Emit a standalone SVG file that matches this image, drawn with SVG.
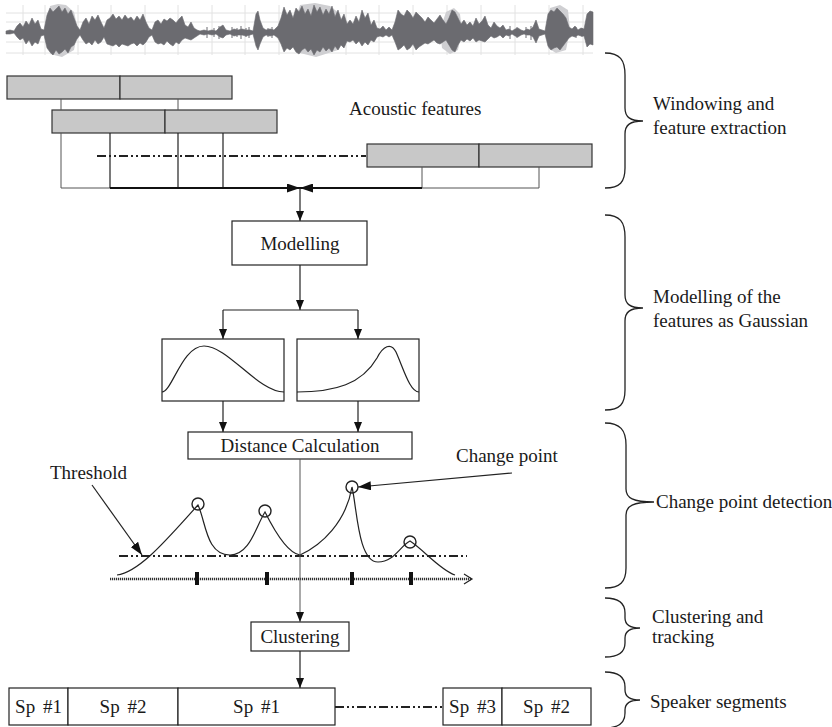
<svg xmlns="http://www.w3.org/2000/svg" width="832" height="727" viewBox="0 0 832 727">
  <style>
    .lbl { font-family: "Liberation Serif", "Times New Roman", serif; font-size: 19px; fill: #1a1a1a; }
    .mid { text-anchor: middle; }
    .sp { word-spacing: 3px; }
    .box { fill: #ffffff; stroke: #222; stroke-width: 1.2; }
    .feat { fill: #c8c8c8; stroke: #333; stroke-width: 1.2; }
    .ln { fill: none; stroke: #222; stroke-width: 1.2; }
    .thin { fill: none; stroke: #555; stroke-width: 1; }
    .thick { fill: none; stroke: #111; stroke-width: 2.2; }
    .dashdot { fill: none; stroke: #222; stroke-width: 2; stroke-dasharray: 9 3 2 3 2 3; }
    .brace { fill: none; stroke: #222; stroke-width: 1.3; }
    .grid { stroke: #e2e2e2; stroke-width: 1; }
  </style>
  <defs>
    <marker id="ah" viewBox="0 0 10 8" refX="10" refY="4" markerWidth="10" markerHeight="8" markerUnits="userSpaceOnUse" orient="auto">
      <path d="M0 0 L10 4 L0 8 Z" fill="#111"/>
    </marker>
    <marker id="ahBig" viewBox="0 0 13 9" refX="13" refY="4.5" markerWidth="13" markerHeight="9" markerUnits="userSpaceOnUse" orient="auto">
      <path d="M0 0 L13 4.5 L0 9 Z" fill="#111"/>
    </marker>
  </defs>

  <!-- speech waveform -->
  <g id="waveform">
    <g class="grid">
      <line x1="6" y1="13" x2="593" y2="13"/>
      <line x1="6" y1="22" x2="593" y2="22"/>
      <line x1="6" y1="42" x2="593" y2="42"/>
      <line x1="6" y1="53" x2="593" y2="53"/>
      <line x1="23" y1="5" x2="23" y2="55"/>
      <line x1="45" y1="5" x2="45" y2="55"/>
      <line x1="78" y1="5" x2="78" y2="55"/>
      <line x1="111" y1="5" x2="111" y2="55"/>
      <line x1="145" y1="5" x2="145" y2="55"/>
      <line x1="178" y1="5" x2="178" y2="55"/>
      <line x1="212" y1="5" x2="212" y2="55"/>
      <line x1="245" y1="5" x2="245" y2="55"/>
      <line x1="279" y1="5" x2="279" y2="55"/>
      <line x1="312" y1="5" x2="312" y2="55"/>
      <line x1="346" y1="5" x2="346" y2="55"/>
      <line x1="379" y1="5" x2="379" y2="55"/>
      <line x1="413" y1="5" x2="413" y2="55"/>
      <line x1="447" y1="5" x2="447" y2="55"/>
      <line x1="481" y1="5" x2="481" y2="55"/>
      <line x1="515" y1="5" x2="515" y2="55"/>
      <line x1="549" y1="5" x2="549" y2="55"/>
      <line x1="583" y1="5" x2="583" y2="55"/>
    </g>
    <!-- lighter halo around the loud bursts -->
    <g fill="#cfcfd2">
      <polygon points="46,30 50,6 58,4 66,5 74,12 78,30 74,50 62,57 50,54"/>
      <polygon points="292,30 300,5 315,3 330,6 340,14 344,30 338,50 316,57 296,52"/>
      <polygon points="440,30 446,12 454,8 460,14 462,30 458,50 450,54 442,48"/>
      <polygon points="546,30 550,8 560,5 568,10 570,30 566,50 556,53 548,48"/>
    </g>
    <polygon fill="#6b6b70" stroke="#6b6b70" stroke-width="0.6" points="6,31 10,30 14,31 17,26 20,23 23,27 26,21 29,25 32,18 35,24 38,20 41,29 44,30 47,15 50,8 53,12 56,9 59,6 62,12 65,8 68,14 71,10 74,18 77,26 80,30 83,22 86,18 89,24 92,16 95,20 98,15 101,22 104,28 107,20 110,18 113,14 116,19 119,16 122,20 125,15 128,19 131,17 134,21 137,16 140,20 143,14 146,22 149,28 152,30 155,22 158,20 161,24 164,19 167,21 170,18 173,20 176,23 179,19 182,16 185,25 188,27 191,22 194,28 197,30 200,31 204,30 208,31 212,30 216,31 220,27 223,25 226,30 230,31 234,29 238,30 242,29 246,30 250,30 253,31 256,14 258,11 260,20 263,28 266,30 270,29 274,30 278,26 281,18 284,7 287,15 290,10 293,18 296,8 299,12 302,6 305,14 308,9 311,16 314,5 317,12 320,7 323,15 326,9 329,14 332,6 335,17 338,10 341,20 344,14 347,24 350,20 353,24 356,16 359,22 362,10 365,18 368,13 371,25 374,20 377,28 380,29 383,26 386,30 389,27 392,30 395,22 398,10 401,14 404,16 407,10 410,13 413,18 416,12 419,15 422,18 425,22 428,17 431,20 434,23 437,19 440,15 443,20 446,24 449,18 452,10 455,12 458,18 461,24 464,20 467,25 470,22 473,26 476,18 479,24 482,21 485,16 488,25 491,28 494,22 497,26 500,28 503,25 506,30 509,29 512,31 515,29 518,28 521,30 524,31 527,29 530,30 533,27 536,20 539,29 542,30 545,31 548,14 551,10 554,12 557,8 560,11 563,14 566,18 569,27 572,29 575,26 578,30 581,28 584,29 587,14 590,11 593,12 593,45 590,44 587,47 584,36 581,36 578,35 575,37 572,36 569,38 566,42 563,46 560,50 557,47 554,48 551,50 548,46 545,34 542,35 539,36 536,43 533,37 530,35 527,35 524,34 521,35 518,37 515,36 512,34 509,36 506,35 503,38 500,35 497,37 494,38 491,36 488,39 485,42 482,41 479,40 476,42 473,38 470,41 467,39 464,42 461,40 458,45 455,52 452,50 449,45 446,40 443,42 440,44 437,43 434,40 431,42 428,44 425,43 422,45 419,47 416,50 413,44 410,48 407,50 404,45 401,48 398,50 395,42 392,35 389,37 386,35 383,37 380,36 377,37 374,42 371,40 368,45 365,42 362,46 359,41 356,44 353,40 350,42 347,41 344,48 341,45 338,50 335,46 332,52 329,48 326,51 323,47 320,52 317,50 314,55 311,49 308,52 305,48 302,50 299,54 296,52 293,47 290,50 287,48 284,52 281,44 278,38 274,35 270,36 266,35 263,37 260,44 258,50 256,46 253,34 250,35 246,36 242,35 238,35 234,36 230,34 226,35 223,38 220,37 216,34 212,35 208,34 204,35 200,34 197,36 194,38 191,40 188,39 185,38 182,40 179,44 176,42 173,46 170,44 167,41 164,45 161,43 158,44 155,42 152,35 149,37 146,42 143,45 140,43 137,46 134,43 131,44 128,46 125,45 122,44 119,47 116,44 113,46 110,45 107,44 104,37 101,42 98,44 95,40 92,45 89,42 86,44 83,40 80,35 77,39 74,45 71,47 68,53 65,49 62,52 59,54 56,50 53,55 50,52 47,48 44,35 41,36 38,44 35,42 32,46 29,40 26,44 23,38 20,40 17,37 14,33 10,34 6,34"/>
    <!-- fine spikes in the quieter stretches -->
    <path fill="none" stroke="#6b6b70" stroke-width="1" d="M207 27V38 M214 28V37 M219 26V39 M232 27V38 M237 28V37 M241 26V39 M246 28V37 M249 27V38 M268 28V37 M272 27V38 M510 26V39 M517 27V38 M526 27V38 M531 26V40 M576 27V38 M582 28V37"/>
  </g>

  <!-- windowed frames -->
  <g id="frames-row1">
    <rect class="feat" x="7" y="76" width="113" height="23"/>
    <rect class="feat" x="120" y="76" width="112" height="23"/>
  </g>
  <g id="frames-row2">
    <rect class="feat" x="52" y="110" width="113" height="23"/>
    <rect class="feat" x="165" y="110" width="112" height="23"/>
  </g>
  <g id="frames-last">
    <rect class="feat" x="367" y="144" width="112" height="23"/>
    <rect class="feat" x="479" y="144" width="113" height="23"/>
  </g>
  <g id="acoustic-label">
    <text class="lbl" x="349" y="115">Acoustic features</text>
  </g>

  <g id="modelling">
    <rect class="box" x="232" y="221" width="135" height="44"/>
    <text class="lbl mid" x="300" y="250">Modelling</text>
  </g>

  <g id="gauss-left">
    <rect class="box" x="162" y="339" width="122" height="62"/>
    <path class="ln" stroke-width="1.8" d="M162 392 C172 392 182 346 204 346 C228 346 258 392 284 392"/>
  </g>
  <g id="gauss-right">
    <rect class="box" x="297" y="339" width="122" height="62"/>
    <path class="ln" stroke-width="1.8" d="M297 392 C335 392 362 384 377 358 C383 346 391 342 396 352 C404 370 410 392 419 392"/>
  </g>

  <g id="distance">
    <rect class="box" x="188" y="432" width="224" height="27"/>
    <text class="lbl mid" x="300" y="452">Distance Calculation</text>
  </g>

  <g id="clustering">
    <rect class="box" x="251" y="622" width="98" height="29"/>
    <text class="lbl mid" x="300" y="643">Clustering</text>
  </g>

  <g id="segments">
    <rect class="box" x="9" y="688" width="59" height="37"/>
    <text class="lbl mid sp" x="38.5" y="713">Sp #1</text>
    <rect class="box" x="68" y="688" width="110" height="37"/>
    <text class="lbl mid sp" x="123" y="713">Sp #2</text>
    <rect class="box" x="178" y="688" width="157" height="37"/>
    <text class="lbl mid sp" x="256.5" y="713">Sp #1</text>
    <rect class="box" x="443" y="688" width="59" height="37"/>
    <text class="lbl mid sp" x="472.5" y="713">Sp #3</text>
    <rect class="box" x="502" y="688" width="89" height="37"/>
    <text class="lbl mid sp" x="546.5" y="713">Sp #2</text>
  </g>

  <!-- distance curve with change points -->
  <g id="change-curve">
    <path class="dashdot" d="M119 556 H467"/>
    <path fill="none" stroke="#333" stroke-width="2.6" stroke-dasharray="1.2 0.8" d="M110 579 H471"/>
    <path class="ln" d="M464 574 L472 579 L464 584"/>
    <g fill="#111">
      <rect x="195" y="572" width="4" height="13"/>
      <rect x="265" y="572" width="4" height="13"/>
      <rect x="350" y="572" width="4" height="13"/>
      <rect x="409" y="572" width="4" height="13"/>
    </g>
    <path class="ln" stroke-width="1.8" d="M117 575 C140 572 168 538 198 505 C206 522 206 555 230 555 C250 555 256 526 265 512 C272 526 286 553 300 555 C322 545 346 522 352 487 C357 508 358 562 378 562 C394 562 400 546 410 541 C424 550 440 570 455 575"/>
    <g fill="none" stroke="#222" stroke-width="1.4">
      <circle cx="198" cy="504" r="6"/>
      <circle cx="265" cy="511" r="6"/>
      <circle cx="352" cy="487" r="6"/>
      <circle cx="410" cy="542" r="6"/>
    </g>
    <text class="lbl" x="50" y="479">Threshold</text>
    <text class="lbl" x="456" y="462">Change point</text>
  </g>

  <!-- connectors -->
  <g id="connectors">
    <path class="thin" d="M61 99 V110 M178 99 V110"/>
    <path class="thin" d="M61 133 V188 H110"/>
    <path class="ln" d="M110 133 V188 M178 133 V188 M223 133 V188"/>
    <path class="dashdot" d="M97 156 H366"/>
    <path class="thin" d="M422 167 V188 H539 V167"/>
    <path class="thick" marker-end="url(#ahBig)" d="M110 188 H300"/>
    <path class="thick" marker-end="url(#ahBig)" d="M422 188 H300"/>
    <path class="ln" marker-end="url(#ah)" d="M300 188 V221"/>
    <path class="ln" marker-end="url(#ah)" d="M300 265 V310"/>
    <path class="ln" d="M223 310 H358"/>
    <path class="ln" marker-end="url(#ah)" d="M223 310 V339"/>
    <path class="ln" marker-end="url(#ah)" d="M358 310 V339"/>
    <path class="ln" marker-end="url(#ah)" d="M223 401 V432"/>
    <path class="ln" marker-end="url(#ah)" d="M358 401 V432"/>
    <path class="thin" stroke-width="1.3" marker-end="url(#ah)" d="M300 459 V622"/>
    <path class="ln" marker-end="url(#ah)" d="M300 651 V688"/>
    <path class="dashdot" d="M335 707 H443"/>
    <path class="ln" marker-end="url(#ahBig)" d="M92 485 L142 555"/>
    <path class="ln" marker-end="url(#ahBig)" d="M512 473 L358 487"/>
  </g>

  <!-- stage braces and captions -->
  <g id="stage-windowing">
    <path class="brace" d="M605 53 C620 53 625 60 625 75 V108 C625 117 630 121 643 121 C630 121 625 125 625 134 V168 C625 182 620 188 605 188"/>
    <text class="lbl" x="653" y="110">Windowing and</text>
    <text class="lbl" x="653" y="134">feature extraction</text>
  </g>
  <g id="stage-modelling">
    <path class="brace" d="M605 215 C620 215 625 222 625 237 V295 C625 304 630 308 643 308 C630 308 625 312 625 321 V390 C625 404 620 410 605 410"/>
    <text class="lbl" x="653" y="303">Modelling of the</text>
    <text class="lbl" x="653" y="327">features as Gaussian</text>
  </g>
  <g id="stage-change">
    <path class="brace" d="M605 423 C620 423 626 430 626 445 V489 C626 498 633 502 654 502 C633 502 626 506 626 515 V568 C626 582 620 588 605 588"/>
    <text class="lbl" x="656" y="508">Change point detection</text>
  </g>
  <g id="stage-clustering">
    <path class="brace" d="M605 598 C619 598 625 603 625 613 V618 C625 625 630 628 640 628 C630 628 625 631 625 638 V643 C625 652 619 657 605 657"/>
    <text class="lbl" x="652" y="623">Clustering and</text>
    <text class="lbl" x="652" y="643">tracking</text>
  </g>
  <g id="stage-segments">
    <path class="brace" d="M605 672 C619 672 625 677 625 687 V690 C625 697 630 700 640 700 C630 700 625 703 625 710 V713 C625 723 619 728 605 728"/>
    <text class="lbl" x="650" y="708">Speaker segments</text>
  </g>
</svg>
